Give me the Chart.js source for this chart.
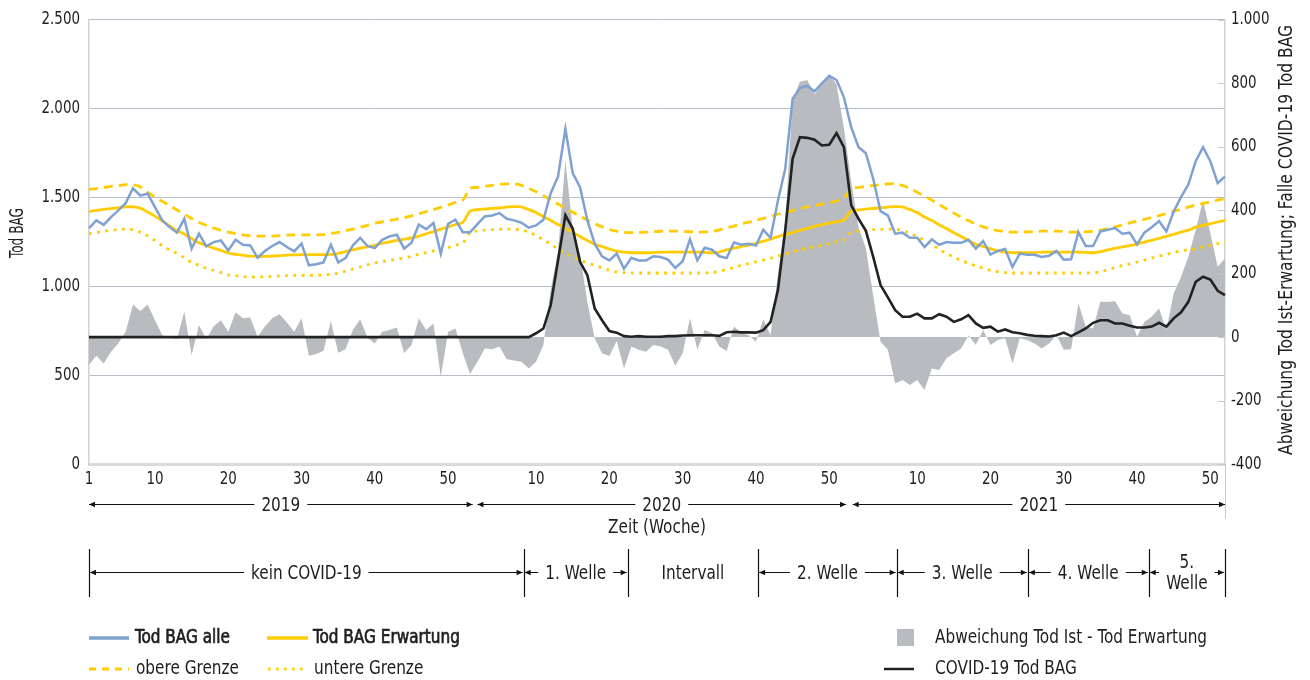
<!DOCTYPE html>
<html lang="de">
<head>
<meta charset="utf-8">
<title>Tod BAG 2019–2021</title>
<script src="https://cdn.jsdelivr.net/npm/chart.js@4/dist/chart.umd.min.js"></script>
<style>
  html, body { margin: 0; padding: 0; background: #ffffff; }
  #wrap { width: 1310px; height: 680px; position: relative; }
  canvas { display: block; }
</style>
</head>
<body>
<div id="wrap"><canvas id="c" width="1310" height="680"></canvas></div>
<script>
// ---------------- DATA ----------------
const years = [2019, 2020, 2021];
const weeksPerYear = [52, 52, 52];

// Tod BAG alle (left axis)
const todAlle = [
  1328,1371,1346,1390,1427,1468,1552,1511,1521,1446,
  1371,1333,1302,1380,1212,1296,1225,1249,1258,1202,
  1262,1234,1230,1161,1199,1227,1249,1221,1197,1240,
  1118,1124,1135,1234,1135,1159,1230,1273,1227,1215,
  1262,1281,1290,1212,1245,1348,1322,1356,1184,1352,
  1375,1305,
  1305,1350,1393,1399,1412,1380,1371,1358,1330,1343,
  1375,1524,1618,1886,1637,1558,1371,1240,1169,1146,
  1184,1099,1161,1146,1146,1169,1165,1150,1103,1141,
  1264,1146,1217,1206,1169,1159,1247,1234,1240,1230,
  1318,1273,1483,1661,2054,2116,2129,2097,2142,2185,
  2161,2064,
  1895,1783,1749,1605,1423,1399,1296,1302,1273,1273,
  1221,1264,1234,1249,1245,1245,1262,1212,1255,1178,
  1199,1210,1109,1184,1178,1178,1165,1172,1199,1150,
  1152,1305,1227,1227,1309,1318,1328,1296,1302,1236,
  1302,1333,1367,1309,1421,1502,1573,1704,1783,1704,
  1581,1618
];

// Tod BAG Erwartung (left axis)
const erwartung = [
  1421,1427,1433,1437,1442,1447,1447,1440,1418,1395,
  1368,1340,1313,1295,1268,1246,1230,1215,1202,1188,
  1180,1175,1170,1168,1168,1170,1172,1176,1177,1178,
  1178,1178,1178,1180,1186,1195,1205,1215,1222,1230,
  1243,1250,1258,1265,1272,1282,1296,1308,1322,1335,
  1348,1360,
  1423,1431,1435,1438,1442,1446,1449,1447,1432,1415,
  1392,1371,1348,1327,1305,1280,1258,1237,1224,1210,
  1198,1192,1189,1189,1189,1190,1192,1193,1193,1193,
  1193,1193,1191,1189,1193,1205,1215,1224,1231,1242,
  1254,1266,1280,1291,1303,1315,1326,1337,1347,1356,
  1364,1373,
  1423,1430,1435,1438,1442,1446,1449,1447,1432,1415,
  1390,1370,1347,1326,1302,1280,1258,1237,1225,1212,
  1200,1192,1189,1189,1189,1190,1192,1193,1193,1193,
  1193,1193,1191,1189,1195,1205,1214,1222,1229,1238,
  1249,1259,1270,1281,1293,1305,1316,1333,1343,1353,
  1362,1371
];

// obere Grenze (left axis)
const obereGrenze = [
  1545,1550,1556,1562,1567,1572,1572,1560,1530,1502,
  1478,1455,1430,1405,1382,1360,1343,1328,1315,1305,
  1297,1290,1284,1283,1283,1283,1285,1288,1290,1290,
  1290,1290,1291,1297,1304,1313,1322,1332,1343,1355,
  1363,1371,1378,1386,1397,1408,1420,1432,1444,1457,
  1472,1485,
  1550,1557,1563,1568,1573,1576,1577,1568,1550,1532,
  1510,1487,1463,1440,1417,1394,1373,1353,1335,1320,
  1310,1304,1302,1303,1305,1308,1310,1311,1311,1310,
  1307,1305,1306,1309,1318,1329,1339,1352,1361,1372,
  1382,1394,1406,1416,1427,1437,1447,1455,1462,1470,
  1480,1496,
  1550,1556,1562,1567,1572,1576,1577,1568,1550,1530,
  1508,1485,1460,1436,1412,1389,1370,1350,1335,1322,
  1314,1307,1305,1305,1306,1308,1311,1311,1311,1309,
  1305,1305,1307,1309,1316,1325,1334,1345,1357,1368,
  1377,1388,1398,1410,1422,1434,1446,1457,1466,1476,
  1485,1493
];

// untere Grenze (left axis)
const untereGrenze = [
  1296,1303,1310,1315,1319,1322,1318,1305,1285,1258,
  1228,1205,1186,1160,1135,1118,1102,1090,1078,1065,
  1060,1055,1052,1052,1054,1056,1058,1060,1062,1062,
  1062,1062,1064,1068,1074,1086,1097,1109,1121,1132,
  1140,1146,1153,1160,1169,1180,1190,1200,1206,1218,
  1232,1244,
  1305,1312,1316,1319,1321,1322,1322,1316,1305,1285,
  1262,1237,1210,1186,1165,1147,1132,1118,1105,1090,
  1081,1077,1075,1075,1075,1075,1075,1075,1075,1075,
  1075,1075,1075,1077,1085,1095,1106,1118,1128,1138,
  1148,1158,1170,1180,1195,1205,1215,1222,1230,1240,
  1250,1262,
  1305,1312,1316,1319,1321,1322,1322,1312,1300,1280,
  1258,1236,1208,1185,1165,1146,1130,1115,1102,1090,
  1082,1077,1075,1075,1075,1075,1075,1075,1075,1075,
  1075,1075,1075,1076,1082,1094,1105,1117,1126,1137,
  1148,1159,1170,1180,1190,1200,1205,1212,1221,1230,
  1240,1249
];

// Abweichung Tod Ist - Tod Erwartung (right axis)
const abweichung = [
  -88,-59,-83,-46,-20,17,103,82,103,53,
  6,1,-7,80,-57,38,-7,33,53,17,
  78,59,62,1,33,59,72,46,17,59,
  -59,-53,-43,51,-49,-38,22,56,-1,-20,
  17,22,30,-51,-25,59,22,43,-125,17,
  27,-51,
  -116,-78,-36,-38,-30,-70,-74,-78,-99,-78,
  -25,150,270,557,340,260,110,-4,-51,-60,
  -12,-99,-30,-40,-46,-25,-30,-40,-90,-51,
  59,-40,22,12,-30,-44,33,14,6,-15,
  56,6,200,365,745,805,810,765,797,829,
  796,660,
  490,345,280,130,-15,-40,-146,-135,-151,-135,
  -167,-99,-104,-67,-51,-36,6,-25,22,-25,
  -9,-4,-83,-4,-9,-20,-36,-20,6,-40,
  -38,106,33,27,111,111,113,74,69,1,
  48,64,90,22,137,190,253,337,431,327,
  222,248
];

// COVID-19 Tod BAG (right axis)
const covidTod = [
  0,0,0,0,0,0,0,0,0,0,
  0,0,0,0,0,0,0,0,0,0,
  0,0,0,0,0,0,0,0,0,0,
  0,0,0,0,0,0,0,0,0,0,
  0,0,0,0,0,0,0,0,0,0,
  0,0,
  0,0,0,0,0,0,0,0,0,12,
  27,101,242,384,342,237,195,90,53,19,
  14,3,1,3,1,1,1,3,3,5,
  6,6,6,6,4,15,17,15,15,14,
  22,48,148,337,562,630,628,622,604,606,
  643,599,
  415,373,335,253,164,125,85,64,64,74,
  59,59,72,64,48,56,69,43,29,33,
  17,24,15,12,7,4,3,2,6,14,
  3,15,27,45,53,53,43,43,36,30,
  30,33,45,33,59,78,111,174,190,181,
  146,132
];

// Year spans (category index units) and phase boundaries
const yearSpans = [[0, 52.35], [53.0, 103.3], [104.2, 155]];
const phaseBounds = [0, 59.3, 73.5, 91.3, 110.2, 128.1, 144.6, 155];
const phaseNames = ['kein COVID-19', '1. Welle', 'Intervall', '2. Welle', '3. Welle', '4. Welle', '5.|Welle'];
const phaseArrows = [true, true, false, true, true, true, true];

// ---------------- BUILD CATEGORIES ----------------
const labels = [];
const weekNo = [];
years.forEach((yr, k) => {
  for (let w = 1; w <= weeksPerYear[k]; w++) { labels.push(yr + '-W' + w); weekNo.push(w); }
});

// ---------------- STYLE ----------------
const FONT = '"Liberation Sans Narrow", "DejaVu Sans Condensed", "Arial Narrow", sans-serif';
const TXT = '#1e1e1e';
const BLUE = '#7fa2d2';
const YELLOW = '#ffcc00';
const GREY = '#b8bcc0';
const BLACK = '#222222';
const SX = 0.85;          // horizontal condensing of text (narrow face of the original)
const FS = 20;            // annotation / legend font size

function fmtDE(v) {
  const s = String(Math.abs(v)).replace(/\B(?=(\d{3})+(?!\d))/g, '.');
  return (v < 0 ? '-' : '') + s;
}

function textW(ctx, s, size) {
  ctx.save(); ctx.font = size + 'px ' + FONT;
  const w = ctx.measureText(s).width; ctx.restore();
  return w;
}

function drawText(ctx, s, x, y, o) {
  const size = o.size || FS, sx = o.sx || SX;
  ctx.save();
  ctx.font = size + 'px ' + FONT;
  ctx.textAlign = o.align || 'center';
  ctx.textBaseline = 'middle';
  ctx.fillStyle = TXT;
  ctx.translate(x, y);
  if (o.rot) ctx.rotate(o.rot);
  ctx.scale(sx, 1);
  ctx.fillText(s, 0, 0);
  if (o.semi) { ctx.lineWidth = 0.7; ctx.strokeStyle = TXT; ctx.strokeText(s, 0, 0); }
  ctx.restore();
}

function arrowHead(ctx, x, y, dir) {
  ctx.beginPath();
  ctx.moveTo(x, y);
  ctx.lineTo(x - dir * 6, y - 2.8);
  ctx.lineTo(x - dir * 6, y + 2.8);
  ctx.closePath();
  ctx.fill();
}

function dimArrow(ctx, x1, x2, y, tw, cx) {
  const g1 = cx - tw / 2 - 7;
  const g2 = cx + tw / 2 + 7;
  ctx.save();
  ctx.strokeStyle = '#111'; ctx.fillStyle = '#111'; ctx.lineWidth = 1;
  ctx.beginPath();
  ctx.moveTo(x1, y); ctx.lineTo(g1, y);
  ctx.moveTo(g2, y); ctx.lineTo(x2, y);
  ctx.stroke();
  arrowHead(ctx, x1, y, -1);
  arrowHead(ctx, x2, y, 1);
  ctx.restore();
}

// condense the axis tick labels drawn by Chart.js (narrow face in the original)
const narrowTicks = {
  id: 'narrowTicks',
  beforeDraw(chart) {
    const ctx = chart.ctx;
    if (ctx.__origFill) return;
    ctx.__origFill = ctx.fillText;
    ctx.fillText = function (t, x, y, mw) {
      this.save();
      this.translate(x, y);
      this.scale(0.83, 1);
      ctx.__origFill.call(this, t, 0, 0);
      this.restore();
    };
  },
  beforeDatasetsDraw(chart) {
    const ctx = chart.ctx;
    if (ctx.__origFill) { ctx.fillText = ctx.__origFill; delete ctx.__origFill; }
  }
};

const annotations = {
  id: 'annotations',
  afterDraw(chart) {
    const { ctx, scales: { x, y2 }, chartArea: ca } = chart;
    if (ctx.__origFill) { ctx.fillText = ctx.__origFill; delete ctx.__origFill; }
    ctx.save();

    // right axis: inward tick marks and extension of the axis line downwards
    ctx.strokeStyle = '#c9c9c9';
    ctx.lineWidth = 1;
    y2.ticks.forEach(t => {
      const py = Math.round(y2.getPixelForValue(t.value)) + 0.5;
      ctx.beginPath(); ctx.moveTo(ca.right - 7, py); ctx.lineTo(ca.right, py); ctx.stroke();
    });
    ctx.beginPath(); ctx.moveTo(ca.right + 0.5, ca.bottom); ctx.lineTo(ca.right + 0.5, 518); ctx.stroke();

    // axis titles (fitted to the length they take in the original)
    const lt = 'Tod BAG';
    drawText(ctx, lt, 18, 233, { size: 20, rot: -Math.PI / 2, sx: 50 / textW(ctx, lt, 20) });
    const rt = 'Abweichung Tod Ist-Erwartung; Falle COVID-19 Tod BAG';
    drawText(ctx, rt, 1287, 240, { size: 20, rot: -Math.PI / 2, sx: 430 / textW(ctx, rt, 20) });

    // year arrows
    const yY = 504.5;
    years.forEach((yr, k) => {
      const x1 = x.getPixelForValue(yearSpans[k][0]);
      const x2 = x.getPixelForValue(yearSpans[k][1]);
      const cx = (x1 + x2) / 2;
      const t = String(yr);
      const w = textW(ctx, t, FS) * SX;
      dimArrow(ctx, x1, x2, yY, w, cx);
      drawText(ctx, t, cx, yY + 1, {});
    });

    // x-axis title
    drawText(ctx, 'Zeit (Woche)', (ca.left + ca.right) / 2, 528, {});

    // phases
    const bTop = 549, bBot = 597, aY = 572.5;
    ctx.strokeStyle = '#111';
    ctx.lineWidth = 1.2;
    phaseBounds.forEach(b => {
      const px = Math.round(x.getPixelForValue(b)) + 0.5;
      ctx.beginPath(); ctx.moveTo(px, bTop); ctx.lineTo(px, bBot); ctx.stroke();
    });
    phaseNames.forEach((name, k) => {
      const x1 = x.getPixelForValue(phaseBounds[k]) + 1;
      const x2 = x.getPixelForValue(phaseBounds[k + 1]) - 1;
      const cx = (x1 + x2) / 2;
      const parts = name.split('|');
      const w = Math.max(...parts.map(p => textW(ctx, p, FS) * SX));
      if (phaseArrows[k]) dimArrow(ctx, x1, x2, aY, w, cx);
      if (parts.length === 1) {
        drawText(ctx, parts[0], cx, aY + 1, {});
      } else {
        drawText(ctx, parts[0], cx, aY - 10, {});
        drawText(ctx, parts[1], cx, aY + 11, {});
      }
    });

    // legend
    const r1 = 638, r2 = 669;
    ctx.lineCap = 'butt';
    ctx.lineWidth = 3.5; ctx.strokeStyle = BLUE; ctx.setLineDash([]);
    ctx.beginPath(); ctx.moveTo(89, r1); ctx.lineTo(129, r1); ctx.stroke();
    ctx.strokeStyle = YELLOW;
    ctx.beginPath(); ctx.moveTo(267, r1); ctx.lineTo(308, r1); ctx.stroke();
    drawText(ctx, 'Tod BAG alle', 135, r1, { align: 'left', semi: true });
    drawText(ctx, 'Tod BAG Erwartung', 313, r1, { align: 'left', semi: true });
    ctx.fillStyle = GREY;
    ctx.fillRect(897, 629, 17, 17);
    drawText(ctx, 'Abweichung Tod Ist - Tod Erwartung', 935, r1, { align: 'left' });

    ctx.lineWidth = 3; ctx.strokeStyle = YELLOW;
    ctx.setLineDash([7, 6]);
    ctx.beginPath(); ctx.moveTo(89, r2); ctx.lineTo(129, r2); ctx.stroke();
    ctx.setLineDash([2.5, 5.5]);
    ctx.beginPath(); ctx.moveTo(268, r2); ctx.lineTo(308, r2); ctx.stroke();
    ctx.setLineDash([]);
    ctx.lineWidth = 2.5; ctx.strokeStyle = BLACK;
    ctx.beginPath(); ctx.moveTo(884, r2); ctx.lineTo(914, r2); ctx.stroke();
    drawText(ctx, 'obere Grenze', 136, r2, { align: 'left' });
    drawText(ctx, 'untere Grenze', 314, r2, { align: 'left' });
    drawText(ctx, 'COVID-19 Tod BAG', 935, r2, { align: 'left' });

    ctx.restore();
  }
};

// ---------------- CHART ----------------
const tickFont = { family: FONT, size: 18 };

new Chart(document.getElementById('c').getContext('2d'), {
  type: 'line',
  data: {
    labels: labels,
    datasets: [
      { label: 'COVID-19 Tod BAG', data: covidTod, yAxisID: 'y2', borderColor: BLACK, borderWidth: 2.6,
        pointRadius: 0, tension: 0, fill: false, order: 0 },
      { label: 'Tod BAG alle', data: todAlle, yAxisID: 'y', borderColor: BLUE, borderWidth: 2.5,
        pointRadius: 0, tension: 0, fill: false, order: 1 },
      { label: 'Tod BAG Erwartung', data: erwartung, yAxisID: 'y', borderColor: YELLOW, borderWidth: 2.8,
        pointRadius: 0, tension: 0.3, fill: false, order: 2 },
      { label: 'obere Grenze', data: obereGrenze, yAxisID: 'y', borderColor: YELLOW, borderWidth: 2.8,
        borderDash: [9, 6], pointRadius: 0, tension: 0.3, fill: false, order: 3 },
      { label: 'untere Grenze', data: untereGrenze, yAxisID: 'y', borderColor: YELLOW, borderWidth: 2.8,
        borderDash: [2.8, 5.5], pointRadius: 0, tension: 0.3, fill: false, order: 4 },
      { label: 'Abweichung Tod Ist - Tod Erwartung', data: abweichung, yAxisID: 'y2', borderWidth: 0,
        borderColor: GREY, backgroundColor: GREY, pointRadius: 0, tension: 0, fill: 'origin', order: 10 }
    ]
  },
  options: {
    responsive: false,
    animation: false,
    devicePixelRatio: 1,
    layout: { padding: { top: 19, left: 0, right: 0, bottom: 0 } },
    plugins: { legend: { display: false }, tooltip: { enabled: false } },
    scales: {
      x: {
        type: 'category',
        offset: false,
        grid: { display: false, drawTicks: false },
        border: { display: true, color: '#dadada', width: 3 },
        ticks: {
          autoSkip: false, maxRotation: 0, minRotation: 0, padding: 5,
          color: TXT, font: tickFont,
          callback: function (v, i) { const w = weekNo[i]; return (i === 0 || w % 10 === 0) ? String(w) : ''; }
        },
        afterFit: function (s) { s.height = 216; }
      },
      y: {
        position: 'left', min: 0, max: 2500,
        grid: { color: '#b7bec9', lineWidth: 1, drawTicks: false },
        border: { display: true, color: '#d2d2d2', width: 1.5 },
        ticks: { stepSize: 500, padding: 9, color: TXT, font: tickFont, callback: v => fmtDE(v) },
        afterFit: function (s) { s.width = 89; }
      },
      y2: {
        position: 'right', min: -400, max: 1000,
        grid: { drawOnChartArea: false, drawTicks: false },
        border: { display: true, color: '#d2d2d2', width: 1.5 },
        ticks: { stepSize: 200, padding: 6, color: TXT, font: tickFont, callback: v => fmtDE(v) },
        afterFit: function (s) { s.width = 85; }
      }
    }
  },
  plugins: [narrowTicks, annotations]
});
</script>
</body>
</html>
